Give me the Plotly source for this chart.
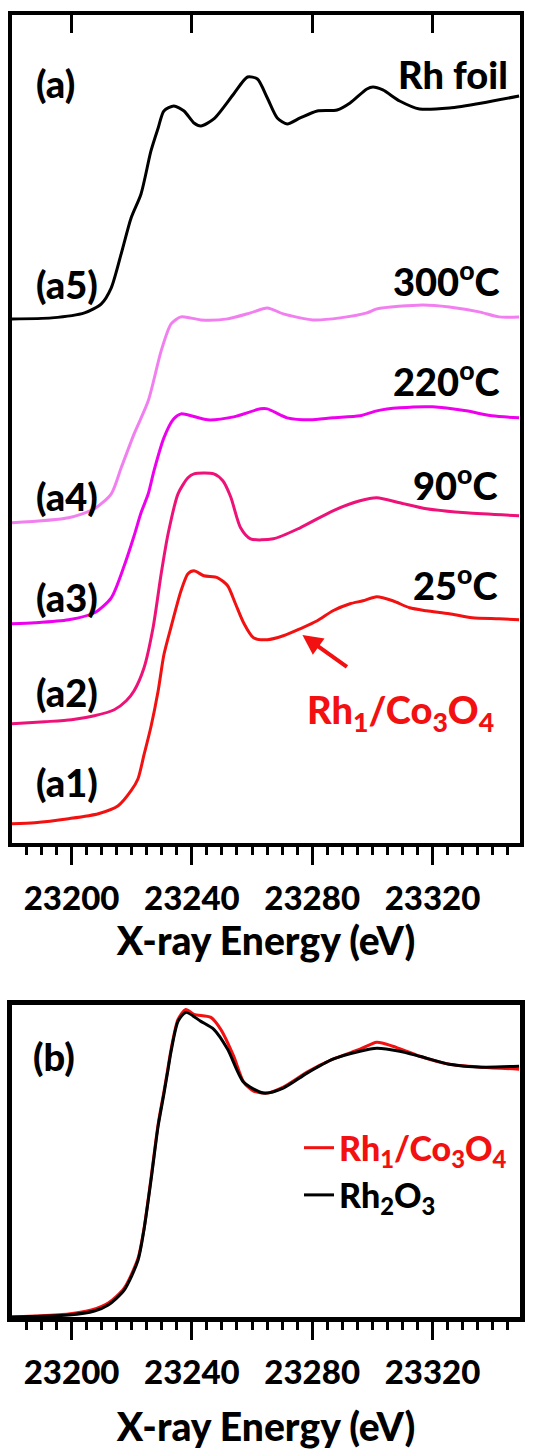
import plotly.graph_objects as go

# ---------------- data ----------------
# Panel (a): normalized Rh K-edge XANES, stacked with vertical offsets
E_foil = [23180.2, 23193.4, 23204.3, 23209.9, 23213.2, 23216.5, 23219.8, 23223.1, 23226.4, 23228.8,
          23230.7, 23234.0, 23237.4, 23240.7, 23243.0, 23247.3, 23253.9, 23258.5, 23261.8, 23265.1,
          23268.4, 23271.7, 23276.0, 23281.7, 23288.3, 23292.6, 23298.2, 23300.2, 23303.5, 23309.1,
          23315.7, 23325.6, 23336.5, 23348.8]
mu_foil = [2.62, 2.625, 2.65, 2.695, 2.775, 2.945, 3.125, 3.245, 3.46, 3.575,
           3.66, 3.685, 3.66, 3.60, 3.585, 3.62, 3.745, 3.83, 3.82, 3.725,
           3.625, 3.595, 3.625, 3.66, 3.665, 3.70, 3.77, 3.78, 3.765, 3.71,
           3.67, 3.675, 3.70, 3.735]

E_300 = [23180.2, 23199.0, 23207.6, 23213.2, 23216.5, 23220.8, 23225.5, 23229.8, 23233.1, 23236.4,
         23243.0, 23251.9, 23259.5, 23265.1, 23270.4, 23280.3, 23289.3, 23298.2, 23301.5, 23316.7,
         23325.6, 23335.5, 23342.1, 23348.8]
mu_300 = [1.60, 1.625, 1.67, 1.745, 1.875, 2.045, 2.21, 2.46, 2.595, 2.63,
          2.615, 2.62, 2.65, 2.675, 2.645, 2.615, 2.625, 2.65, 2.67, 2.69,
          2.68, 2.655, 2.63, 2.63]

E_220 = [23180.2, 23187.8, 23199.0, 23207.6, 23213.2, 23217.5, 23220.8, 23223.1, 23225.5, 23227.4,
         23230.7, 23234.0, 23236.4, 23245.3, 23253.9, 23262.8, 23265.1, 23271.7, 23279.3, 23286.9,
         23295.9, 23301.5, 23309.1, 23320.0, 23331.2, 23339.8, 23348.8]
mu_220 = [1.095, 1.10, 1.115, 1.15, 1.225, 1.385, 1.535, 1.65, 1.745, 1.86,
          2.025, 2.12, 2.145, 2.115, 2.13, 2.17, 2.17, 2.125, 2.115, 2.125,
          2.135, 2.16, 2.175, 2.18, 2.16, 2.135, 2.125]

E_90 = [23180.2, 23191.1, 23200.0, 23207.6, 23214.2, 23218.2, 23220.8, 23224.1, 23227.1, 23229.8,
        23232.1, 23235.4, 23238.7, 23240.7, 23247.3, 23250.3, 23252.9, 23256.2, 23259.5, 23267.1,
        23276.0, 23286.9, 23295.9, 23301.5, 23309.1, 23318.0, 23331.2, 23348.8]
mu_90 = [0.595, 0.605, 0.615, 0.635, 0.665, 0.71, 0.76, 0.875, 1.075, 1.345,
         1.545, 1.745, 1.825, 1.845, 1.845, 1.81, 1.73, 1.575, 1.52, 1.52,
         1.575, 1.66, 1.71, 1.725, 1.70, 1.67, 1.65, 1.635]

E_25 = [23180.2, 23187.8, 23199.0, 23208.9, 23215.5, 23219.8, 23222.1, 23224.1, 23226.4, 23228.8,
        23230.7, 23233.1, 23236.4, 23238.7, 23240.7, 23244.0, 23248.6, 23251.9, 23254.5, 23257.2,
        23260.5, 23265.1, 23270.4, 23276.0, 23281.7, 23286.9, 23292.6, 23296.9, 23301.5, 23306.8,
        23312.4, 23318.0, 23325.6, 23333.2, 23342.1, 23348.8]
mu_25 = [0.095, 0.10, 0.12, 0.145, 0.185, 0.26, 0.32, 0.44, 0.58, 0.76,
         0.94, 1.08, 1.26, 1.345, 1.36, 1.335, 1.325, 1.285, 1.195, 1.10,
         1.025, 1.015, 1.035, 1.07, 1.11, 1.16, 1.195, 1.21, 1.23, 1.21,
         1.175, 1.16, 1.145, 1.125, 1.12, 1.115]

# Panel (b): Rh1/Co3O4 vs Rh2O3 reference
E_rh1 = [23180.2, 23187.8, 23199.0, 23206.6, 23212.2, 23217.5, 23222.1, 23224.1, 23226.4, 23228.8,
         23230.7, 23232.1, 23233.1, 23235.4, 23238.0, 23240.7, 23246.3, 23249.6, 23253.9, 23257.2,
         23260.5, 23265.1, 23270.4, 23278.3, 23286.9, 23295.9, 23301.5, 23306.8, 23315.7, 23325.6,
         23336.5, 23348.8]
mu_rh1 = [0.0, 0.004, 0.012, 0.028, 0.056, 0.116, 0.236, 0.356, 0.556, 0.776,
          0.904, 1.004, 1.076, 1.196, 1.236, 1.216, 1.204, 1.156, 1.048, 0.944,
          0.908, 0.90, 0.924, 0.984, 1.036, 1.076, 1.104, 1.088, 1.048, 1.016,
          1.004, 0.996]

E_rh2o3 = [23180.2, 23199.0, 23207.6, 23212.2, 23217.5, 23222.1, 23224.1, 23226.4, 23228.8, 23230.7,
           23232.1, 23233.1, 23235.4, 23238.0, 23243.0, 23247.3, 23251.9, 23257.2, 23263.8, 23270.4,
           23278.3, 23286.9, 23295.9, 23301.5, 23309.1, 23315.7, 23325.6, 23336.5, 23348.8]
mu_rh2o3 = [0.0, 0.008, 0.024, 0.048, 0.108, 0.228, 0.352, 0.548, 0.768, 0.896,
            0.996, 1.068, 1.188, 1.224, 1.188, 1.156, 1.076, 0.944, 0.90, 0.92,
            0.98, 1.036, 1.068, 1.08, 1.068, 1.048, 1.016, 1.004, 1.008]

x_range = [23180.2, 23349.1]
x_tick0 = 23200
x_dtick = 40
x_minor_dtick = 5

# ---------------- styling ----------------
FONT = "Lato"
WEIGHT = 900
BLACK = "#000000"
C_300 = "#f27ff0"
C_220 = "#ee00ee"
C_90 = "#ee1278"
C_25 = "#f21010"

DOM_A = [0.3643, 1.0]
DOM_B = [0.0, 0.2393]
Y_A = [0.0, 4.14]
Y_B = [0.0, 1.252]

fig = go.Figure()


def add_line(x, y, color, xa, ya, name=None, legend=False):
    fig.add_trace(go.Scatter(
        x=x, y=y, mode="lines", name=name, showlegend=legend,
        line=dict(color=color, width=3, shape="spline", smoothing=0.7),
        xaxis=xa, yaxis=ya, hoverinfo="skip"))


add_line(E_25, mu_25, C_25, "x", "y")
add_line(E_90, mu_90, C_90, "x", "y")
add_line(E_220, mu_220, C_220, "x", "y")
add_line(E_300, mu_300, C_300, "x", "y")
add_line(E_foil, mu_foil, BLACK, "x", "y")

add_line(E_rh1, mu_rh1, C_25, "x2", "y2",
         name='<span style="color:#f21010">Rh<sub>1</sub>/Co<sub>3</sub>O<sub>4</sub></span>', legend=True)
add_line(E_rh2o3, mu_rh2o3, BLACK, "x2", "y2",
         name="Rh<sub>2</sub>O<sub>3</sub>", legend=True)

# fully transparent copies hosting the inside top tick axes of panel (a)
fig.add_trace(go.Scatter(x=E_25, y=mu_25, xaxis="x3", yaxis="y3", showlegend=False,
                         hoverinfo="skip", mode="lines", opacity=0))
fig.add_trace(go.Scatter(x=E_25, y=mu_25, xaxis="x4", yaxis="y", showlegend=False,
                         hoverinfo="skip", mode="lines", opacity=0))

tickfont = dict(family=FONT, size=33, color=BLACK, weight=WEIGHT)
titlefont = dict(family=FONT, size=39, color=BLACK, weight=WEIGHT)


def xaxis_common(anchor, lw, label_standoff, title_standoff):
    return dict(
        domain=[0, 1], anchor=anchor, range=x_range, tickmode="linear", tick0=x_tick0,
        dtick=x_dtick, tickformat="d", ticks="outside", ticklen=18, tickwidth=3,
        tickcolor=BLACK, automargin=False,
        minor=dict(tickmode="linear", tick0=x_tick0, dtick=x_minor_dtick, ticks="outside",
                   ticklen=8, tickwidth=3, tickcolor=BLACK),
        showline=True, linewidth=lw, linecolor=BLACK, mirror=True,
        showgrid=False, zeroline=False, tickfont=tickfont,
        ticklabelstandoff=label_standoff,
        title=dict(text="X-ray Energy (eV)", font=titlefont, standoff=title_standoff),
    )


def yaxis_common(domain, anchor, rng, lw):
    return dict(domain=domain, anchor=anchor, range=rng, showline=True, linewidth=lw,
                linecolor=BLACK, mirror=True, ticks="", showticklabels=False,
                showgrid=False, zeroline=False, automargin=False)


fig.update_layout(
    width=536, height=1449,
    margin=dict(l=12, r=16, t=15, b=132, autoexpand=False),
    paper_bgcolor="white", plot_bgcolor="rgba(0,0,0,0)",
    font=dict(family=FONT, color=BLACK),
    xaxis=xaxis_common("y", 4, 6, 0),
    xaxis2=xaxis_common("y2", 5, 4, 57),
    xaxis3=dict(domain=[0, 1], anchor="y3", side="top", range=x_range,
                tickmode="linear", tick0=x_tick0, dtick=x_dtick, ticks="inside",
                ticklen=18, tickwidth=3, tickcolor="black", showticklabels=False,
                showline=False, showgrid=False, zeroline=False, automargin=False),
    yaxis3=dict(domain=DOM_A, anchor="x3", range=Y_A, showticklabels=False,
                ticks="", showline=False, showgrid=False, zeroline=False, automargin=False),
    xaxis4=dict(overlaying="x", anchor="free", position=DOM_A[1], side="bottom",
                range=x_range, tickmode="linear", tick0=x_tick0, dtick=x_dtick,
                ticks="outside", ticklen=12, tickwidth=3, tickcolor="black",
                showticklabels=False, showline=False, showgrid=False, zeroline=False,
                automargin=False),
    yaxis=yaxis_common(DOM_A, "x", Y_A, 4),
    yaxis2=yaxis_common(DOM_B, "x2", Y_B, 5),
    legend=dict(x=0.565, y=0.152, xanchor="left", yanchor="top",
                font=dict(family=FONT, size=34, color=BLACK, weight=WEIGHT),
                bgcolor="rgba(0,0,0,0)", borderwidth=0, tracegroupgap=0),
    showlegend=True,
)

lab_font = dict(family=FONT, size=38, color=BLACK, weight=WEIGHT)


def label_a(text, xd, yd, anchor, color=BLACK):
    f = dict(lab_font)
    f["color"] = color
    fig.add_annotation(text=text, xref="x domain", yref="y domain", x=xd, y=yd,
                       xanchor=anchor, yanchor="middle", showarrow=False, font=f)


label_a("(a)", 0.043, 0.918, "left")
label_a("Rh foil", 0.980, 0.929, "right")
label_a("(a5)", 0.043, 0.6755, "left")
label_a("300<sup>o</sup>C", 0.9646, 0.6815, "right")
label_a("220<sup>o</sup>C", 0.9646, 0.5597, "right")
label_a("(a4)", 0.043, 0.4186, "left")
label_a("90<sup>o</sup>C", 0.9607, 0.4343, "right")
label_a("(a3)", 0.043, 0.2967, "left")
label_a("25<sup>o</sup>C", 0.9607, 0.3136, "right")
label_a("(a2)", 0.043, 0.1821, "left")
label_a("(a1)", 0.043, 0.0736, "left")
label_a("Rh<sub>1</sub>/Co<sub>3</sub>O<sub>4</sub>", 0.5776, 0.158, "left", color=C_25)

# arrow pointing at the 25 C curve
fig.add_annotation(xref="x domain", yref="y domain", x=0.5717, y=0.2509, ax=46, ay=33,
                   text="", showarrow=True, arrowhead=2, arrowsize=1.0, arrowwidth=4,
                   arrowcolor=C_25)

fig.add_annotation(text="(b)", xref="x2 domain", yref="y2 domain", x=0.037, y=0.8365,
                   xanchor="left", yanchor="middle", showarrow=False, font=lab_font)

fig.write_html("out.html")
